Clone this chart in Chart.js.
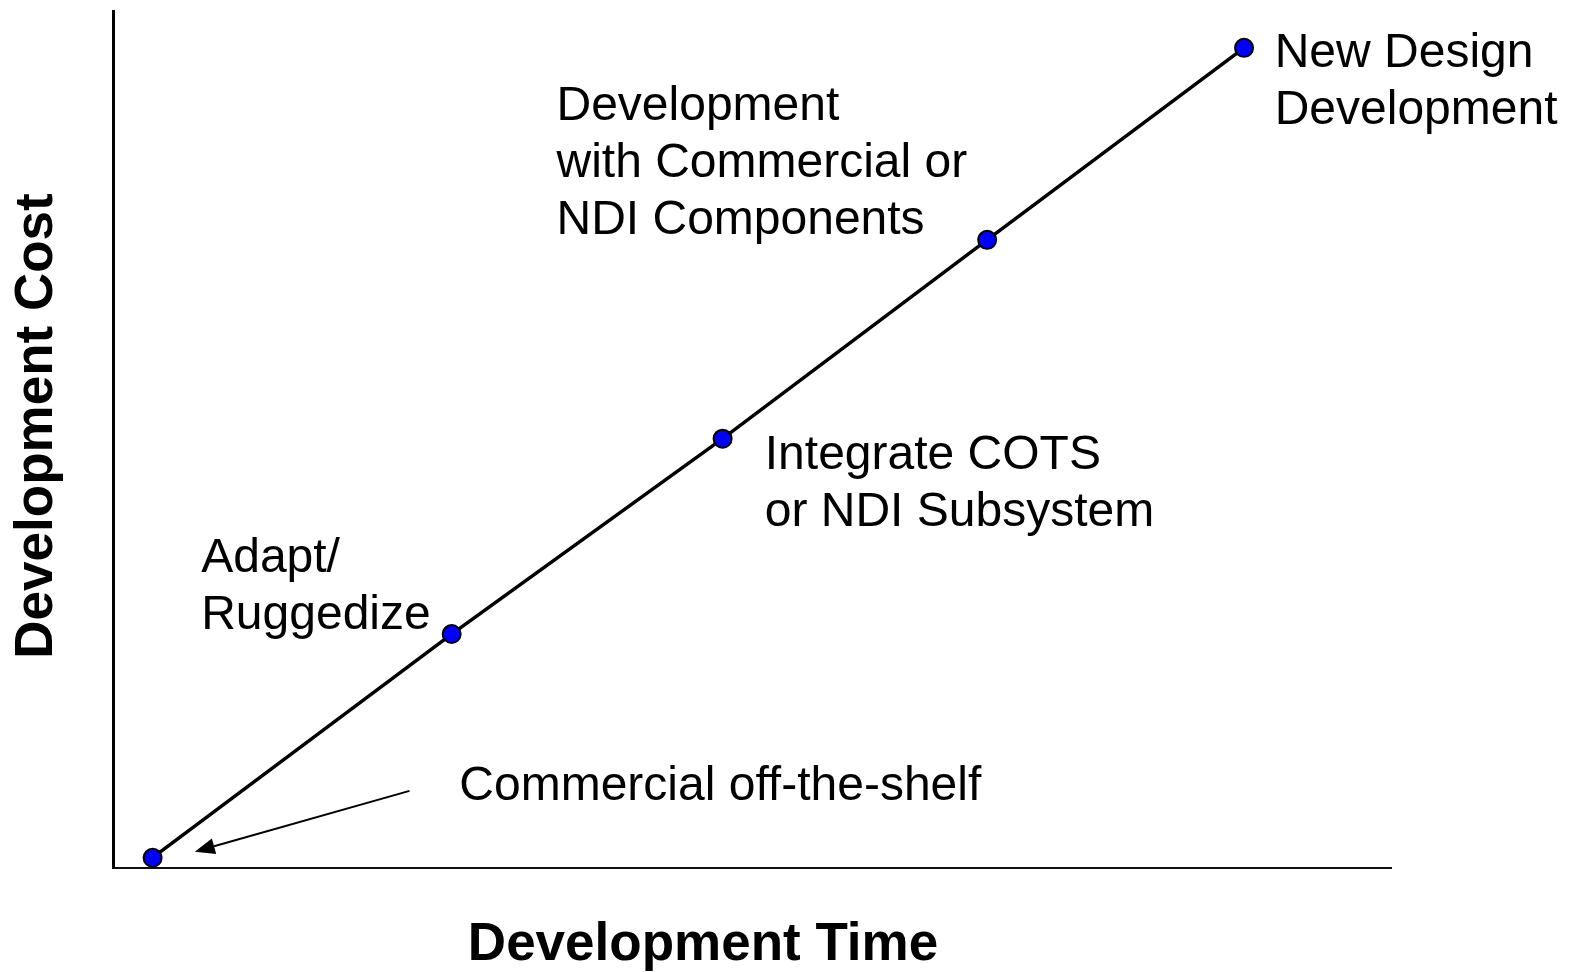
<!DOCTYPE html>
<html>
<head>
<meta charset="utf-8">
<script src="https://cdn.jsdelivr.net/npm/chart.js"></script>
<style>
  html, body { margin: 0; padding: 0; background: #fff; }
  #wrap { width: 1570px; height: 972px; position: relative; }
</style>
</head>
<body>
<div id="wrap"><canvas id="devChart"></canvas></div>
<script>
// Development options, plotted on arbitrary 0-100 scales
var optionNames = ['Commercial off-the-shelf', 'Adapt/Ruggedize', 'Integrate COTS or NDI Subsystem',
                   'Development with Commercial or NDI Components', 'New Design Development'];
var devTime = [3.1, 26.5, 47.7, 68.4, 88.5];
var devCost = [1.2, 27.3, 50.1, 73.3, 95.7];

// Annotation text: anchor (left, first baseline) in data units
var labelLines = [
    ['New Design', 'Development'],
    ['Development', 'with Commercial or', 'NDI Components'],
    ['Integrate COTS', 'or NDI Subsystem'],
    ['Adapt/', 'Ruggedize'],
    ['Commercial off-the-shelf']
];
var labelX = [90.9, 34.7, 51.0, 6.9, 27.1];
var labelY = [93.5, 87.3, 46.5, 34.5, 7.9];

// Arrow from COTS label to the first point
var arrowFrom = [23.2, 9.0];
var arrowTo = [6.4, 1.9];

var xTitle = 'Development Time';
var yTitle = 'Development Cost';

var FONT = '"Liberation Sans", Arial, Helvetica, sans-serif';

var points = devTime.map(function(t, i) { return { x: t, y: devCost[i] }; });

var annotations = {
    id: 'annotations',
    afterDraw: function(chart) {
        var c = chart.ctx;
        var xs = chart.scales.x, ys = chart.scales.y;
        c.save();
        c.fillStyle = '#000';
        c.font = '48px ' + FONT;
        c.textAlign = 'left';
        c.textBaseline = 'alphabetic';
        labelLines.forEach(function(lines, i) {
            var px = xs.getPixelForValue(labelX[i]);
            var py = ys.getPixelForValue(labelY[i]);
            lines.forEach(function(line, j) {
                c.fillText(line, px, py + j * 57);
            });
        });

        // arrow
        var x1 = xs.getPixelForValue(arrowFrom[0]), y1 = ys.getPixelForValue(arrowFrom[1]);
        var x2 = xs.getPixelForValue(arrowTo[0]), y2 = ys.getPixelForValue(arrowTo[1]);
        var ang = Math.atan2(y2 - y1, x2 - x1);
        var headLen = 20, headW = 8;
        var bx = x2 - headLen * Math.cos(ang), by = y2 - headLen * Math.sin(ang);
        c.strokeStyle = '#000';
        c.lineWidth = 2;
        c.beginPath();
        c.moveTo(x1, y1);
        c.lineTo(bx, by);
        c.stroke();
        c.beginPath();
        c.moveTo(x2, y2);
        c.lineTo(bx + headW * Math.sin(ang), by - headW * Math.cos(ang));
        c.lineTo(bx - headW * Math.sin(ang), by + headW * Math.cos(ang));
        c.closePath();
        c.fill();

        // axis titles
        c.font = 'bold 53px ' + FONT;
        c.textAlign = 'center';
        c.fillText(xTitle, 703, 960);
        c.translate(52, 426);
        c.rotate(-Math.PI / 2);
        c.fillText(yTitle, 0, 0);
        c.restore();
    }
};

new Chart(document.getElementById('devChart').getContext('2d'), {
    type: 'scatter',
    data: {
        datasets: [{
            label: 'Development options',
            data: points,
            showLine: true,
            borderColor: '#000',
            borderWidth: 3.5,
            tension: 0,
            pointRadius: 9,
            pointHoverRadius: 9,
            pointBackgroundColor: '#0000ff',
            pointBorderColor: '#000',
            pointBorderWidth: 2,
            clip: false
        }]
    },
    options: {
        responsive: true,
        maintainAspectRatio: false,
        animation: false,
        layout: { padding: { left: 113, top: 6, right: 179, bottom: 104 } },
        plugins: {
            legend: { display: false },
            tooltip: { enabled: false }
        },
        scales: {
            x: {
                type: 'linear', min: 0, max: 100,
                grid: { display: false, drawTicks: false },
                ticks: { display: false },
                border: { display: true, color: '#111', width: 2 },
                afterFit: function(s) { s.height = 0; }
            },
            y: {
                type: 'linear', min: 0, max: 100,
                grid: { display: false, drawTicks: false },
                ticks: { display: false },
                border: { display: true, color: '#000', width: 3 },
                afterFit: function(s) { s.width = 0; }
            }
        }
    },
    plugins: [annotations]
});
</script>
</body>
</html>
